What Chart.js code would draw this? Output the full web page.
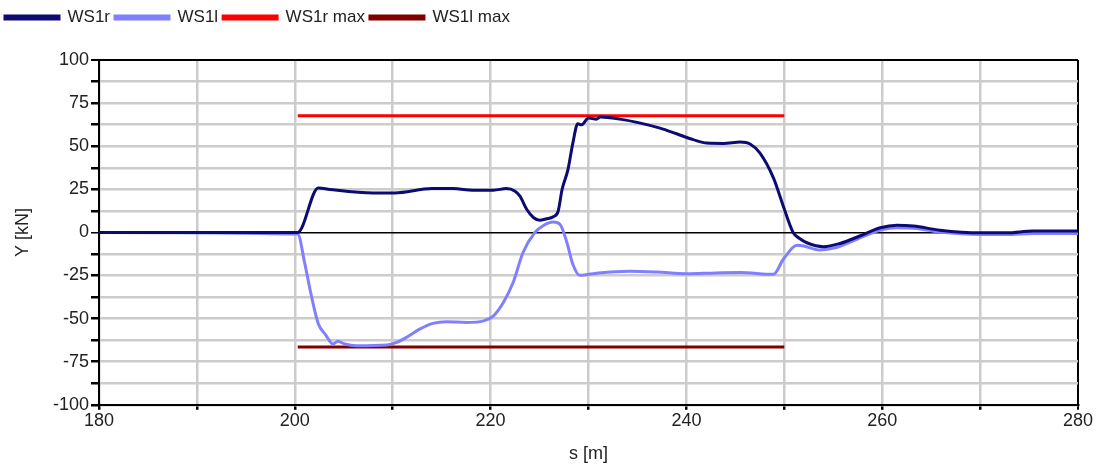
<!DOCTYPE html>
<html>
<head>
<meta charset="utf-8">
<script src="https://cdn.jsdelivr.net/npm/chart.js@4"></script>
<style>
  html, body { margin: 0; padding: 0; background: #fff; }
  #wrap { width: 1097px; height: 465px; position: relative; }
</style>
</head>
<body>
<div id="wrap"><canvas id="chartCanvas"></canvas></div>
<script>
// s [m] / Y [kN]
const sR = [180, 200.3, 202.4, 203.6, 208, 210.2, 214, 216.2, 218.2, 220.3, 221.6, 222.5, 223.0, 223.7, 224.4, 225.0, 225.7, 226.4, 226.9, 227.3, 227.9, 228.4, 228.9, 229.3, 230, 230.8, 231.2, 233.2, 235.3, 237.3, 239, 240.7, 242.1, 243.8, 245.5, 246.5, 247.5, 248.9, 249.9, 250.9, 251.6, 252.3, 254, 255.7, 257.7, 259.8, 261.5, 263.2, 265.9, 270, 272.7, 275.4, 280];
const yR = [0, 0, 25.8, 24.9, 22.9, 22.9, 25.4, 25.4, 24.5, 24.5, 25.4, 23.9, 21, 13.3, 8.5, 7.1, 7.9, 9.1, 12.3, 24.9, 36.4, 51.8, 63, 62.4, 66.3, 65.7, 66.9, 65.7, 63.4, 60.5, 57.2, 53.8, 51.8, 51.6, 52.4, 51.3, 46.1, 31.5, 15.2, 0, -3.7, -6, -8.3, -6.4, -2.1, 2.7, 4.2, 3.7, 1.3, -0.2, -0.2, 0.8, 0.8];

const sL = [180, 200.3, 201, 201.7, 202.4, 203.1, 203.9, 204.4, 205.1, 206.3, 209.4, 210.4, 211.4, 212.8, 214.1, 215.5, 217.5, 219.3, 220.3, 221.3, 222.3, 223.3, 224.5, 225.4, 226.4, 227.1, 227.8, 228.4, 229.1, 231, 234.2, 237, 240, 243, 245.5, 248.9, 249.9, 251.3, 252, 253.6, 255.3, 257.4, 259.8, 261.5, 263.5, 265.9, 270, 272.7, 275.4, 280];
const yL = [0, -1, -17.5, -37, -53, -59, -64.7, -63.2, -64.7, -65.7, -65.3, -63.8, -60.9, -56, -52.8, -51.8, -52.2, -51.3, -48.4, -40.7, -29.1, -11.8, -0.2, 4, 6, 4.6, -6, -18.5, -24.9, -23.5, -22.5, -23, -24, -23.5, -23.3, -24.3, -15.6, -7.5, -7.9, -10.2, -8.8, -4, 1.3, 2.7, 2.3, 0.2, -1.2, -1.2, -0.6, -0.6];

const maxS = [200.3, 250];
const maxR = 67.6;
const maxL = -66.5;

function pts(xs, ys) {
  return xs.map((x, i) => ({ x: x, y: ys[i] }));
}

const font = { family: "'Liberation Sans', Arial, sans-serif", size: 17 };
const tickFont = { family: "'Liberation Sans', Arial, sans-serif", size: 18 };

// make room under the legend so the plot starts where the reference does
const legendGap = {
  id: 'legendGap',
  beforeInit(chart) {
    const fit = chart.legend.fit;
    chart.legend.fit = function () {
      fit.call(this);
      this.height += 24;
    };
  }
};

const ctx = document.getElementById('chartCanvas').getContext('2d');
const chart = new Chart(ctx, {
  type: 'line',
  data: {
    datasets: [
      { label: 'WS1r', data: pts(sR, yR), borderColor: '#0b0b72', backgroundColor: '#0b0b72', borderWidth: 3 },
      { label: 'WS1l', data: pts(sL, yL), borderColor: '#8080ff', backgroundColor: '#8080ff', borderWidth: 3 },
      { label: 'WS1r max', data: pts(maxS, [maxR, maxR]), borderColor: '#ff0000', backgroundColor: '#ff0000', borderWidth: 3 },
      { label: 'WS1l max', data: pts(maxS, [maxL, maxL]), borderColor: '#800000', backgroundColor: '#800000', borderWidth: 3 }
    ]
  },
  plugins: [legendGap],
  options: {
    responsive: true,
    maintainAspectRatio: false,
    animation: false,
    elements: { point: { radius: 0 }, line: { cubicInterpolationMode: 'monotone' } },
    layout: { padding: { left: 0, right: 19, top: 4, bottom: 0 } },
    plugins: {
      legend: {
        position: 'top',
        align: 'start',
        labels: { boxWidth: 54, boxHeight: 3, padding: 5, color: '#222', font: font }
      },
      tooltip: { enabled: false }
    },
    scales: {
      x: {
        type: 'linear',
        min: 180, max: 280,
        border: { color: '#000', width: 2 },
        grid: {
          color: c => (c.tick && c.tick.value === 280) ? '#000' : '#cccccc',
          lineWidth: c => (c.tick && c.tick.value === 280) ? 2 : 2.5,
          tickColor: '#000', tickLength: 5
        },
        ticks: {
          stepSize: 10, autoSkip: false, maxRotation: 0, padding: 0,
          color: '#222', font: tickFont,
          callback: v => (v % 20 === 0 ? v : '')
        },
        title: { display: true, text: 's [m]', color: '#222', font: tickFont, padding: { top: 12, bottom: 0 } }
      },
      y: {
        min: -100, max: 100,
        border: { color: '#000', width: 2 },
        grid: {
          color: c => {
            const v = c.tick && c.tick.value;
            return (v === 0 || v === 100) ? '#000' : '#cccccc';
          },
          lineWidth: c => {
            const v = c.tick && c.tick.value;
            return v === 0 ? 1.5 : (v === 100 ? 2 : 2.5);
          },
          tickColor: '#000', tickLength: 8
        },
        ticks: {
          stepSize: 12.5, autoSkip: false, padding: 2,
          color: '#222', font: tickFont,
          callback: v => (v % 25 === 0 ? v : '')
        },
        title: { display: true, text: 'Y [kN]', color: '#222', font: tickFont, padding: { top: 12, bottom: 8 } },
        afterFit: scale => { scale.width = 99; }
      }
    }
  }
});
</script>
</body>
</html>
